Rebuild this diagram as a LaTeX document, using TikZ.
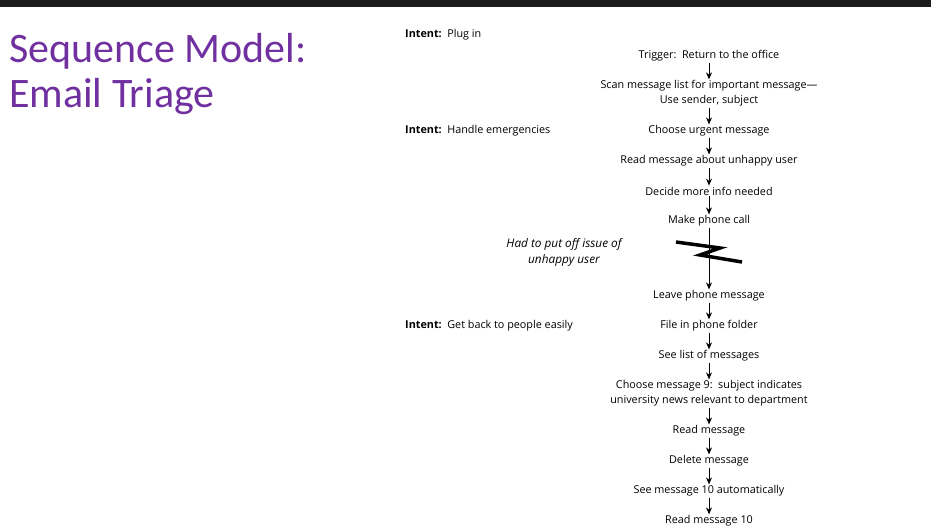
\documentclass[tikz,border=0pt]{standalone}
\usepackage{fontspec}
\setmainfont{Open Sans}
\newfontfamily\titlefont{Carlito}
\usetikzlibrary{arrows.meta}
\definecolor{titlepurple}{HTML}{7030A0}
\definecolor{topbar}{HTML}{1C1C1C}

\begin{document}
\begin{tikzpicture}[x=1pt,y=-1pt,
    act/.style={font=\fontsize{10.8}{15}\selectfont, inner sep=1pt, align=center},
    intent/.style={font=\fontsize{10.8}{15}\selectfont, anchor=west, inner sep=0pt},
    heading/.style={anchor=base west, inner sep=0pt, text=titlepurple, font=\titlefont\fontsize{42}{47}\selectfont},
    flow/.style={-{Stealth[length=7pt,width=6pt]}, line width=0.9pt}]

    \useasboundingbox (0,0) rectangle (931,531);
    \fill[topbar] (0,0) rectangle (931,7); % window bar

    % title
    \node[heading] (titleA) at (9,62) {Sequence Model:};
    \node[heading] (titleB) at (9,107) {Email Triage};

    % intents
    \node[intent] (plugin) at (405,35) {\textbf{Intent:}\, Plug in};
    \node[intent] (emerg) at (405,131) {\textbf{Intent:}\, Handle emergencies};
    \node[intent] (getback) at (405,326) {\textbf{Intent:}\, Get back to people easily};

    % sequence
    \node[act] (trigger) at (709,56) {Trigger:\, Return to the office};
    \node[act] (scan) at (709,93.5) {Scan message list for important message---\\Use sender, subject};
    \node[act] (urgent) at (709,131) {Choose urgent message};
    \node[act] (unhappy) at (709,161) {Read message about unhappy user};
    \node[act] (decide) at (709,191) {Decide more info needed};
    \node[act] (call) at (709,221) {Make phone call};
    \node[act] (leave) at (709,296) {Leave phone message};
    \node[act] (file) at (709,326) {File in phone folder};
    \node[act] (list) at (709,356) {See list of messages};
    \node[act] (msgnine) at (709,393.5) {Choose message 9:\, subject indicates\\university news relevant to department};
    \node[act] (read) at (709,431) {Read message};
    \node[act] (delete) at (709,461) {Delete message};
    \node[act] (msgten) at (709,491) {See message 10 automatically};
    \node[act] (readten) at (709,521) {Read message 10};

    \node[act, font=\itshape\fontsize{11.8}{16}\selectfont] (putoff) at (564,252) {Had to put off issue of\\unhappy user};

    \draw[flow] (trigger) -- (scan);
    \draw[flow] (scan) -- (urgent);
    \draw[flow] (urgent) -- (unhappy);
    \draw[flow] (unhappy) -- (decide);
    \draw[flow] (decide) -- (call);
    \draw[flow] (call) -- (leave);
    \draw[flow] (leave) -- (file);
    \draw[flow] (file) -- (list);
    \draw[flow] (list) -- (msgnine);
    \draw[flow] (msgnine) -- (read);
    \draw[flow] (read) -- (delete);
    \draw[flow] (delete) -- (msgten);
    \draw[flow] (msgten) -- (readten);

    % break in the flow
    \draw[line width=3.5pt] (676,242) -- (720,248) -- (700,255) -- (742,262);

\end{tikzpicture}
\end{document}
